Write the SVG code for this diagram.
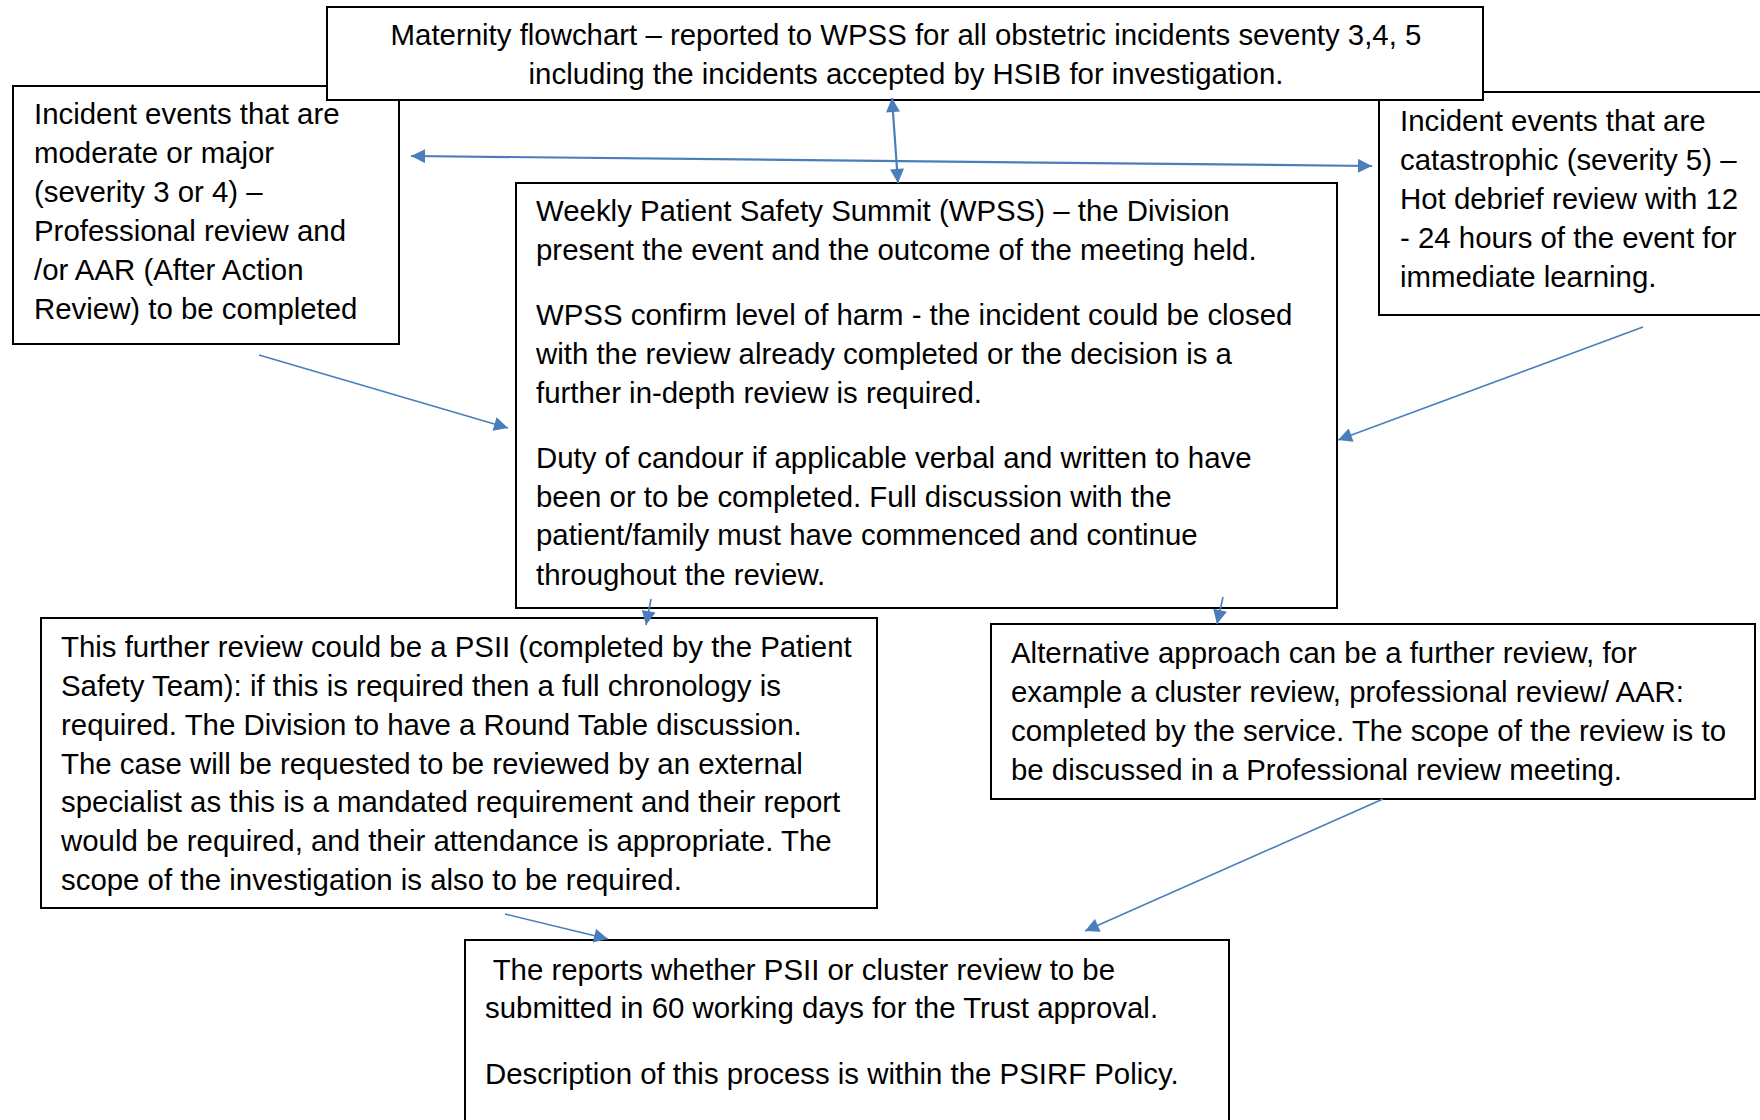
<svg xmlns="http://www.w3.org/2000/svg" width="1760" height="1120" viewBox="0 0 1760 1120">
<style>
.box{fill:#ffffff;stroke:#000000;stroke-width:2}
.t{font-family:"Liberation Sans",Arial,sans-serif;font-size:29.4px;fill:#000000}
.c{text-anchor:middle}
.ln{stroke:#4a7ebb;stroke-width:1.6;fill:none}
.lnb{stroke:#4a7ebb;stroke-width:2.2;fill:none}
</style>
<defs>
<marker id="ah" viewBox="0 0 10 10" refX="10" refY="5" markerWidth="16" markerHeight="14" markerUnits="userSpaceOnUse" orient="auto-start-reverse">
<path d="M0,0 L10,5 L0,10 z" fill="#4a7ebb"/>
</marker>
</defs>
<rect width="1760" height="1120" fill="#ffffff"/>

<g id="left-box">
<rect class="box" x="13" y="86" width="386" height="258"/>
<text class="t" x="34" y="124">Incident events that are</text>
<text class="t" x="34" y="163">moderate or major</text>
<text class="t" x="34" y="202">(severity 3 or 4) –</text>
<text class="t" x="34" y="241">Professional review and</text>
<text class="t" x="34" y="280">/or AAR (After Action</text>
<text class="t" x="34" y="319">Review) to be completed</text>
</g>

<g id="right-box">
<rect class="box" x="1379" y="92" width="390" height="223"/>
<text class="t" x="1400" y="131">Incident events that are</text>
<text class="t" x="1400" y="170">catastrophic (severity 5) –</text>
<text class="t" x="1400" y="209">Hot debrief review with 12</text>
<text class="t" x="1400" y="248">- 24 hours of the event for</text>
<text class="t" x="1400" y="287">immediate learning.</text>
</g>

<g id="top-box">
<rect class="box" x="327" y="7" width="1156" height="93"/>
<text class="t c" x="906" y="45">Maternity flowchart – reported to WPSS for all obstetric incidents seventy 3,4, 5</text>
<text class="t c" x="906" y="84">including the incidents accepted by HSIB for investigation.</text>
</g>

<g id="wpss-box">
<rect class="box" x="516" y="183" width="821" height="425"/>
<text class="t" x="536" y="221">Weekly Patient Safety Summit (WPSS) – the Division</text>
<text class="t" x="536" y="260">present the event and the outcome of the meeting held.</text>
<text class="t" x="536" y="325">WPSS confirm level of harm - the incident could be closed</text>
<text class="t" x="536" y="364">with the review already completed or the decision is a</text>
<text class="t" x="536" y="403">further in-depth review is required.</text>
<text class="t" x="536" y="468">Duty of candour if applicable verbal and written to have</text>
<text class="t" x="536" y="507">been or to be completed. Full discussion with the</text>
<text class="t" x="536" y="545">patient/family must have commenced and continue</text>
<text class="t" x="536" y="585">throughout the review.</text>
</g>

<g id="psii-box">
<rect class="box" x="41" y="618" width="836" height="290"/>
<text class="t" x="61" y="657">This further review could be a PSII (completed by the Patient</text>
<text class="t" x="61" y="696">Safety Team): if this is required then a full chronology is</text>
<text class="t" x="61" y="735">required. The Division to have a Round Table discussion.</text>
<text class="t" x="61" y="774">The case will be requested to be reviewed by an external</text>
<text class="t" x="61" y="812">specialist as this is a mandated requirement and their report</text>
<text class="t" x="61" y="851">would be required, and their attendance is appropriate. The</text>
<text class="t" x="61" y="890">scope of the investigation is also to be required.</text>
</g>

<g id="alt-box">
<rect class="box" x="991" y="624" width="764" height="175"/>
<text class="t" x="1011" y="663">Alternative approach can be a further review, for</text>
<text class="t" x="1011" y="702">example a cluster review, professional review/ AAR:</text>
<text class="t" x="1011" y="741">completed by the service. The scope of the review is to</text>
<text class="t" x="1011" y="780">be discussed in a Professional review meeting.</text>
</g>

<g id="reports-box">
<rect class="box" x="465" y="940" width="764" height="200"/>
<text class="t" x="485" y="980" xml:space="preserve"> The reports whether PSII or cluster review to be</text>
<text class="t" x="485" y="1018">submitted in 60 working days for the Trust approval.</text>
<text class="t" x="485" y="1084">Description of this process is within the PSIRF Policy.</text>
</g>

<g id="connectors">
<line class="lnb" x1="892" y1="98" x2="898" y2="183" marker-start="url(#ah)" marker-end="url(#ah)"/>
<line class="lnb" x1="411" y1="156" x2="1372" y2="166" marker-start="url(#ah)" marker-end="url(#ah)"/>
<line class="ln" x1="259" y1="355" x2="508" y2="428" marker-end="url(#ah)"/>
<line class="ln" x1="1643" y1="327" x2="1338" y2="440" marker-end="url(#ah)"/>
<line class="ln" x1="651" y1="599" x2="646" y2="625" marker-end="url(#ah)"/>
<line class="ln" x1="1223" y1="597" x2="1217" y2="624" marker-end="url(#ah)"/>
<line class="ln" x1="505" y1="914" x2="608" y2="939" marker-end="url(#ah)"/>
<line class="ln" x1="1383" y1="799" x2="1085" y2="931" marker-end="url(#ah)"/>
</g>
</svg>
